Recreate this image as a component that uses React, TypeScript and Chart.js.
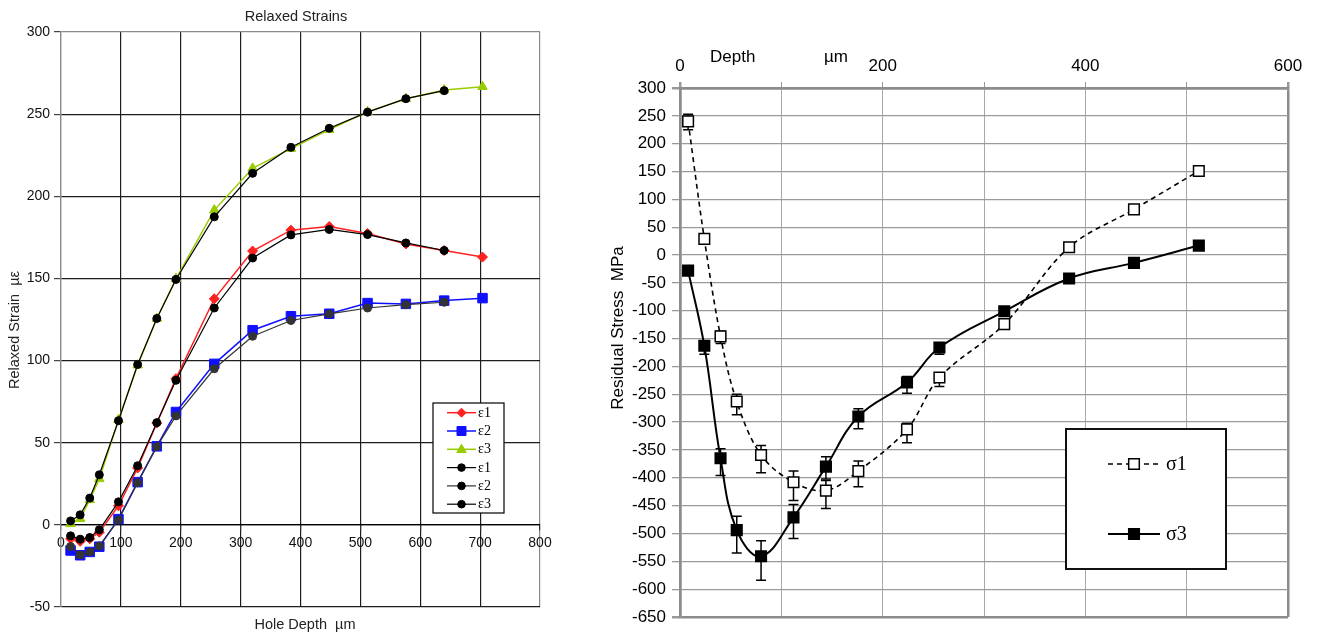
import React, { useEffect, useRef } from 'react';
import { Chart, registerables } from 'chart.js';

Chart.register(...registerables);

// ---- Relaxed strains (left panel) ----
const holeDepth = [16, 32, 48, 64, 96, 128, 160, 192, 256, 320, 384, 448, 512, 576, 640, 704];
const strainE1 = [-8.5, -10, -8.5, -4.5, 11.6, 34.6, 62, 89, 137.6, 166.7, 179.4, 181.6, 177.4, 171, 167, 163];
const strainE2 = [-15.6, -18.5, -16.5, -13.3, 3.5, 26, 47.8, 68.7, 98, 118.5, 127, 128.5, 135, 134.5, 136.5, 138];
const strainE3 = [0.6, 3.7, 15.2, 28, 64, 97.2, 125.6, 149.8, 191.6, 217, 229, 240.6, 251.4, 259.4, 264.7, 266.7];
const strainE1Fit = [-6.7, -8.7, -7.7, -3, 14, 36, 62.2, 88, 132, 162.4, 176.5, 179.8, 176.7, 171.6, 167];
const strainE2Fit = [-13.2, -18.3, -16.5, -12.8, 3, 25.6, 47.6, 66.3, 95, 114.8, 124.4, 128.4, 132, 134, 135.5];
const strainE3Fit = [2.4, 6.1, 16.3, 30.5, 63.4, 97.6, 125.6, 149.4, 187.5, 214, 229.8, 241.4, 251.2, 259.4, 264.3];
const strainLegend = ['ε1', 'ε2', 'ε3', 'ε1', 'ε2', 'ε3'];

// ---- Residual stress (right panel) ----
const stressDepth = [8, 24, 40, 56, 80, 112, 144, 176, 224, 256, 320, 384, 448, 512];
const sigma1 = [240, 29, -146, -263, -359, -408, -423, -388, -313, -220, -124, 14, 82, 151];
const sigma1ErrUp = [13, 0, 9, 13, 17, 20, 18, 18, 11, 7, 0, 0, 0, 0];
const sigma1ErrDown = [15, 0, 13, 24, 32, 33, 32, 28, 24, 16, 0, 0, 0, 0];
const sigma3 = [-28, -163, -365, -494, -541, -471, -380, -290, -229, -166, -101, -42, -14, 17];
const sigma3ErrUp = [0, 9, 17, 25, 28, 23, 18, 14, 11, 8, 0, 0, 0, 0];
const sigma3ErrDown = [0, 15, 31, 41, 43, 38, 22, 22, 19, 12, 0, 0, 0, 0];
const stressLegend = ['σ1', 'σ3'];

const SANS = "'Liberation Sans', Arial, sans-serif";
const SERIF = "'Liberation Serif', 'Times New Roman', serif";

const toPoints = (xs: number[], ys: number[]) => ys.map((y, i) => ({ x: xs[i], y }));

function drawMarker(
  ctx: CanvasRenderingContext2D,
  style: string,
  x: number,
  y: number,
  r: number,
  fill: string,
  stroke: string,
  lw: number
) {
  ctx.save();
  ctx.beginPath();
  if (style === 'circle') {
    ctx.arc(x, y, r, 0, Math.PI * 2);
  } else if (style === 'rect') {
    ctx.rect(x - r, y - r, 2 * r, 2 * r);
  } else if (style === 'rectRot') {
    ctx.moveTo(x, y - r);
    ctx.lineTo(x + r, y);
    ctx.lineTo(x, y + r);
    ctx.lineTo(x - r, y);
    ctx.closePath();
  } else if (style === 'triangle') {
    ctx.moveTo(x, y - r);
    ctx.lineTo(x + r * 0.95, y + r * 0.65);
    ctx.lineTo(x - r * 0.95, y + r * 0.65);
    ctx.closePath();
  }
  ctx.fillStyle = fill;
  ctx.fill();
  ctx.strokeStyle = stroke;
  ctx.lineWidth = lw;
  ctx.stroke();
  ctx.restore();
}

const strainDecor = {
  id: 'strainDecor',
  afterDraw(chart: any) {
    const ctx: CanvasRenderingContext2D = chart.ctx;
    ctx.save();
    ctx.fillStyle = '#222';
    ctx.textAlign = 'center';
    ctx.textBaseline = 'middle';
    ctx.font = `14.5px ${SANS}`;
    ctx.fillText('Relaxed Strains', 296, 17);
    ctx.fillText('Hole Depth  µm', 305, 625);
    ctx.save();
    ctx.translate(15, 330);
    ctx.rotate(-Math.PI / 2);
    ctx.fillText('Relaxed Strain  µε', 0, 0);
    ctx.restore();

    // legend box
    const bx = 433, by = 403, bw = 71, bh = 110;
    ctx.fillStyle = '#fff';
    ctx.fillRect(bx, by, bw, bh);
    ctx.strokeStyle = '#000';
    ctx.lineWidth = 1.2;
    ctx.strokeRect(bx, by, bw, bh);
    const items = [
      { color: '#ff2020', style: 'rectRot', r: 4.5, line: 1.5 },
      { color: '#1010ff', style: 'rect', r: 4.5, line: 1.5 },
      { color: '#99cc00', style: 'triangle', r: 5, line: 1.5 },
      { color: '#000', style: 'circle', r: 3.8, line: 1.2 },
      { color: '#333', style: 'circle', r: 3.8, line: 1.2 },
      { color: '#000', style: 'circle', r: 3.8, line: 1.2 },
    ];
    items.forEach((it, i) => {
      const y = 412.7 + i * 18.3;
      ctx.strokeStyle = it.color;
      ctx.lineWidth = it.line;
      ctx.beginPath();
      ctx.moveTo(447, y);
      ctx.lineTo(476, y);
      ctx.stroke();
      const mc = it.style === 'circle' ? '#000' : it.color;
      drawMarker(ctx, it.style, 461.5, y, it.r, mc, mc, 1);
      ctx.fillStyle = '#000';
      ctx.textAlign = 'left';
      ctx.font = `14px ${SERIF}`;
      ctx.fillText(strainLegend[i], 478, y + 0.5);
    });
    ctx.restore();
  },
};

const errorBars = {
  id: 'errorBars',
  beforeDatasetsDraw(chart: any) {
    const ctx: CanvasRenderingContext2D = chart.ctx;
    const xs = chart.scales.x;
    const ys = chart.scales.y;
    const sets = [
      { v: sigma1, up: sigma1ErrUp, dn: sigma1ErrDown },
      { v: sigma3, up: sigma3ErrUp, dn: sigma3ErrDown },
    ];
    ctx.save();
    ctx.strokeStyle = '#000';
    ctx.lineWidth = 1.5;
    sets.forEach((s) => {
      s.v.forEach((val, i) => {
        if (!s.up[i] && !s.dn[i]) return;
        const px = xs.getPixelForValue(stressDepth[i]);
        const top = ys.getPixelForValue(val + s.up[i]);
        const bot = ys.getPixelForValue(val - s.dn[i]);
        ctx.beginPath();
        ctx.moveTo(px, top);
        ctx.lineTo(px, bot);
        ctx.moveTo(px - 5, top);
        ctx.lineTo(px + 5, top);
        ctx.moveTo(px - 5, bot);
        ctx.lineTo(px + 5, bot);
        ctx.stroke();
      });
    });
    ctx.restore();
  },
};

const stressDecor = {
  id: 'stressDecor',
  afterDraw(chart: any) {
    const ctx: CanvasRenderingContext2D = chart.ctx;
    ctx.save();
    ctx.fillStyle = '#000';
    ctx.textBaseline = 'middle';
    ctx.font = `17px ${SANS}`;
    ctx.textAlign = 'left';
    ctx.fillText('Depth', 150, 57);
    ctx.fillText('µm', 264, 57);
    ctx.save();
    ctx.translate(58, 328);
    ctx.rotate(-Math.PI / 2);
    ctx.textAlign = 'center';
    ctx.fillText('Residual Stress  MPa', 0, 0);
    ctx.restore();

    // legend box
    const bx = 506, by = 429, bw = 160, bh = 140;
    ctx.fillStyle = '#fff';
    ctx.fillRect(bx, by, bw, bh);
    ctx.strokeStyle = '#111';
    ctx.lineWidth = 2;
    ctx.strokeRect(bx, by, bw, bh);
    [464, 534].forEach((y, i) => {
      ctx.save();
      ctx.strokeStyle = '#000';
      ctx.lineWidth = i === 0 ? 1.6 : 2;
      if (i === 0) ctx.setLineDash([5, 4]);
      ctx.beginPath();
      ctx.moveTo(548, y);
      ctx.lineTo(600, y);
      ctx.stroke();
      ctx.restore();
      drawMarker(ctx, 'rect', 574, y, 5.3, i === 0 ? '#fff' : '#000', '#000', 1.5);
      ctx.fillStyle = '#000';
      ctx.font = `20px ${SERIF}`;
      ctx.textAlign = 'left';
      ctx.fillText(stressLegend[i], 606, y + 1);
    });
    ctx.restore();
  },
};

export default function App() {
  const leftRef = useRef<HTMLCanvasElement>(null);
  const rightRef = useRef<HTMLCanvasElement>(null);

  useEffect(() => {
    const tickFont = { family: SANS, size: 14 };
    const strainSeries = (
      label: string,
      ys: number[],
      color: string,
      style: string,
      radius: number,
      width: number,
      order: number
    ) => ({
      label,
      data: toPoints(holeDepth, ys),
      borderColor: color,
      backgroundColor: color,
      borderWidth: width,
      pointStyle: style,
      pointRadius: radius,
      pointBackgroundColor: color,
      pointBorderColor: color,
      pointBorderWidth: 1,
      tension: 0,
      order,
    });

    const left = new Chart(leftRef.current!, {
      type: 'line',
      data: {
        datasets: [
          strainSeries('ε1', strainE1, '#ff2020', 'rectRot', 5, 1.5, 1),
          strainSeries('ε2', strainE2, '#1010ff', 'rect', 6.7, 1.5, 1),
          strainSeries('ε3', strainE3, '#99cc00', 'triangle', 5.5, 1.5, 1),
          strainSeries('ε1', strainE1Fit, '#000', 'circle', 4, 1.2, 0),
          strainSeries('ε2', strainE2Fit, '#333', 'circle', 4, 1.2, 0),
          strainSeries('ε3', strainE3Fit, '#000', 'circle', 4, 1.2, 0),
        ] as any,
      },
      options: {
        animation: false,
        responsive: false,
        devicePixelRatio: 1,
        layout: { padding: { top: 32, right: 20, left: 0, bottom: 29 } },
        plugins: { legend: { display: false }, tooltip: { enabled: false } },
        scales: {
          x: {
            type: 'linear',
            position: { y: 0 } as any,
            min: 0,
            max: 800,
            afterFit: (s: any) => {
              s.height = 30;
            },
            ticks: { stepSize: 100, font: tickFont, color: '#111', padding: 5, maxRotation: 0, autoSkip: false },
            grid: {
              color: (c: any) => (c.tick && (c.tick.value === 0 || c.tick.value === 800) ? '#8a8a8a' : '#1e1e1e'),
              lineWidth: 1.2,
              tickLength: 5,
              tickColor: '#333',
            },
            border: { color: '#000', width: 1.3 },
          },
          y: {
            type: 'linear',
            min: -50,
            max: 300,
            afterFit: (s: any) => {
              s.width = 61;
            },
            ticks: { stepSize: 50, font: tickFont, color: '#111', padding: 4 },
            grid: {
              color: (c: any) => (c.tick && c.tick.value === 300 ? '#8a8a8a' : '#1e1e1e'),
              lineWidth: 1.2,
              tickLength: 7,
              tickColor: '#444',
            },
            border: { color: '#8a8a8a', width: 1.3 },
          },
        },
      },
      plugins: [strainDecor],
    });

    const edge = (v: number, a: number, b: number) => v === a || v === b;
    const right = new Chart(rightRef.current!, {
      type: 'line',
      data: {
        datasets: [
          {
            label: 'σ1',
            data: toPoints(stressDepth, sigma1),
            borderColor: '#000',
            borderWidth: 1.6,
            borderDash: [5, 4],
            pointStyle: 'rect',
            pointRadius: 7.5,
            pointBackgroundColor: '#fff',
            pointBorderColor: '#000',
            pointBorderWidth: 1.5,
            tension: 0.35,
          },
          {
            label: 'σ3',
            data: toPoints(stressDepth, sigma3),
            borderColor: '#000',
            borderWidth: 2,
            pointStyle: 'rect',
            pointRadius: 7.5,
            pointBackgroundColor: '#000',
            pointBorderColor: '#000',
            pointBorderWidth: 1.5,
            tension: 0.4,
          },
        ] as any,
      },
      options: {
        animation: false,
        responsive: false,
        devicePixelRatio: 1,
        layout: { padding: { top: 0, right: 30, left: 0, bottom: 19 } },
        plugins: { legend: { display: false }, tooltip: { enabled: false } },
        scales: {
          x: {
            type: 'linear',
            position: 'top',
            min: 0,
            max: 600,
            afterFit: (s: any) => {
              s.height = 88;
            },
            ticks: {
              stepSize: 100,
              autoSkip: false,
              maxRotation: 0,
              padding: 5,
              font: { family: SANS, size: 17 },
              color: '#000',
              callback: (v: any) => (Number(v) % 200 === 0 ? String(v) : ''),
            },
            grid: {
              color: (c: any) => (c.tick && edge(c.tick.value, 0, 600) ? '#8c8c8c' : '#a8a8a8'),
              lineWidth: (c: any) => (c.tick && edge(c.tick.value, 0, 600) ? 2.5 : 1),
              tickLength: 6,
              tickColor: '#999',
            },
            border: { color: '#8c8c8c', width: 2.5 },
          },
          y: {
            type: 'linear',
            min: -650,
            max: 300,
            afterFit: (s: any) => {
              s.width = 120;
            },
            ticks: { stepSize: 50, padding: 6, font: { family: SANS, size: 17 }, color: '#000' },
            grid: {
              color: (c: any) => (c.tick && edge(c.tick.value, -650, 300) ? '#8c8c8c' : '#9a9a9a'),
              lineWidth: (c: any) => (c.tick && edge(c.tick.value, -650, 300) ? 2.5 : 1.3),
              tickLength: 8,
              tickColor: '#999',
            },
            border: { color: '#8c8c8c', width: 2.5 },
          },
        },
      },
      plugins: [errorBars, stressDecor],
    });

    return () => {
      left.destroy();
      right.destroy();
    };
  }, []);

  return (
    <div style={{ position: 'absolute', left: 0, top: 0, width: 1318, height: 636, background: '#fff' }}>
      <canvas ref={leftRef} width={560} height={636} style={{ position: 'absolute', left: 0, top: 0 }} />
      <canvas ref={rightRef} width={758} height={636} style={{ position: 'absolute', left: 560, top: 0 }} />
    </div>
  );
}
